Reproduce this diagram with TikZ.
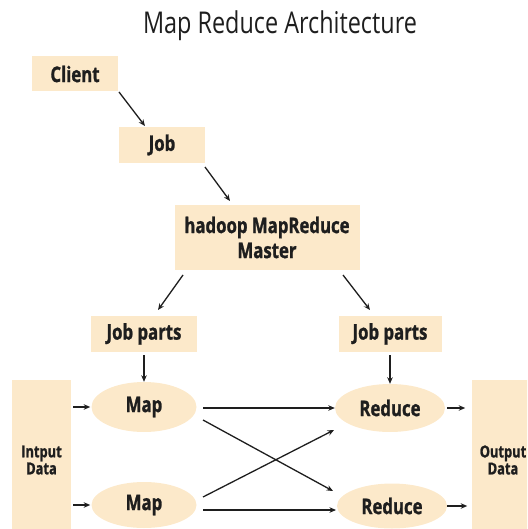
\documentclass[tikz,border=0pt]{standalone}
\usepackage{fontspec}
\setmainfont[FakeStretch=0.78, BoldFeatures={FakeBold=1.2}]{Open Sans}
\usetikzlibrary{arrows.meta, shapes.geometric}

\definecolor{sand}{HTML}{FCE9CA}
\definecolor{ink}{HTML}{1E1E1E}

\tikzset{
  blk/.style={fill=sand, inner sep=0pt, align=center, text=ink,
    font=\bfseries\fontsize{21.5}{25}\selectfont},
  task/.style={blk, ellipse},
  side/.style={blk, font=\bfseries\fontsize{16.5}{17}\selectfont},
  flow/.style={-{Stealth[length=6.5pt,width=5.5pt]}, line width=1.3pt, draw=ink},
}

\begin{document}
\begin{tikzpicture}[x=1pt, y=-1pt]
\useasboundingbox (0,0) rectangle (527,529);
\clip (0,0) rectangle (527,529);

\node[text=ink, font=\fontsize{30}{33}\selectfont] (title) at (280,26) {Map Reduce Architecture};

% request path
\node[blk, minimum width=86, minimum height=35] (client) at (75,74) {Client};
\node[blk, minimum width=86, minimum height=36] (job) at (162,145) {Job};
\node[blk, minimum width=185, minimum height=65] (master) at (267,237.5) {hadoop MapReduce\\Master};
\node[blk, minimum width=106, minimum height=36] (partsL) at (144,334) {Job parts};
\node[blk, minimum width=103, minimum height=36] (partsR) at (390,334) {Job parts};

% data stores
\node[side, minimum width=59, minimum height=160] (input) at (41.5,460) {Intput\\Data};
\node[side, minimum width=62, minimum height=160] (output) at (503,460) {Output\\Data};

% workers
\node[task, minimum width=105, minimum height=50] (mapA) at (144,407) {Map};
\node[task, minimum width=105, minimum height=46] (mapB) at (144,505) {Map};
\node[task, minimum width=110, minimum height=48] (redA) at (390,408) {Reduce};
\node[task, minimum width=110, minimum height=45] (redB) at (392,506) {Reduce};

\coordinate (c1) at (119,92);
\coordinate (c2) at (145,126);
\coordinate (c3) at (205,167);
\coordinate (c4) at (230,201);
\coordinate (c5) at (183,275);
\coordinate (c6) at (158,310);
\coordinate (c7) at (343,275);
\coordinate (c8) at (370,310);

% shuffle end points
\coordinate (m1) at (203,408);
\coordinate (m2) at (203,420);
\coordinate (m3) at (203,497);
\coordinate (m4) at (203,510);
\coordinate (r2) at (333,491);
\coordinate (r3) at (334,430);
\coordinate (r4) at (336,510);

\draw[flow] (c1) -- (c2);
\draw[flow] (c3) -- (c4);
\draw[flow] (c5) -- (c6);
\draw[flow] (c7) -- (c8);
\draw[flow] (partsL.south) ++(0,3) -- (mapA.north);
\draw[flow] (partsR.south) ++(0,3) -- (redA.north);

\draw[flow] (input.east |- mapA) ++(2,0) -- ++(17,0);
\draw[flow] (input.east |- mapB) ++(2,0) -- ++(17,0);
\draw[flow] (redA.east) ++(2,0) -- ++(18,0);
\draw[flow] (redB.east) -- ++(20,0);

\draw[flow] (m1) -- (redA.west);
\draw[flow] (m2) -- (r2);
\draw[flow] (m3) -- (r3);
\draw[flow] (m4) -- (r4);
\end{tikzpicture}
\end{document}
